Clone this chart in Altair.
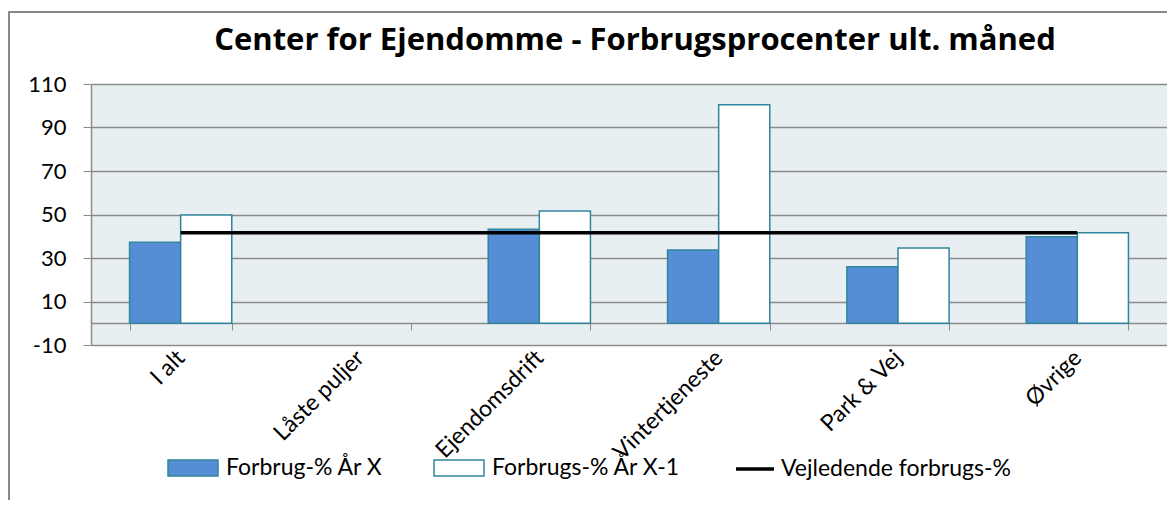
import altair as alt
import pandas as pd

categories = ["I alt", "Låste puljer", "Ejendomsdrift", "Vintertjeneste", "Park & Vej", "Øvrige"]
forbrug_x = [37.2, None, 43.2, 33.7, 26.0, 39.8]
forbrug_x1 = [49.8, None, 51.6, 100.5, 34.6, 41.6]
vejledende = [41.6, 41.6, 41.6, 41.6, 41.6, 41.6]

s_x = "Forbrug-% År X"
s_x1 = "Forbrugs-% År X-1"
s_line = "Vejledende forbrugs-%"

rows = []
for c, a, b in zip(categories, forbrug_x, forbrug_x1):
    if a is not None:
        rows.append({"kat": c, "serie": s_x, "v": a})
    if b is not None:
        rows.append({"kat": c, "serie": s_x1, "v": b})
bars_df = pd.DataFrame(rows)
line_df = pd.DataFrame({"kat": categories, "serie": [s_line] * len(categories), "v": vejledende})

FONT = "Lato"
W, H = 1076, 261
GRID = "#8a8a8a"
XLAB, YLAB, LEG = 23, 22, 23

xscale = alt.Scale(domain=categories, paddingInner=0.43, paddingOuter=0.215)
yscale = alt.Scale(domain=[-10, 110], nice=False, zero=False)


def xaxis():
    return alt.Axis(
        title=None, offset=-22, tickBand="extent", tickSize=7, tickColor=GRID,
        domainColor=GRID, domainWidth=1.5, labelAngle=315, labelAlign="right",
        labelBaseline="middle", labelPadding=24, labelFontSize=XLAB, labelFont=FONT,
        labelColor="black", grid=False, labelLimit=300,
    )


def yaxis():
    return alt.Axis(
        title=None, values=list(range(-10, 111, 20)), tickSize=8, tickColor=GRID,
        domainColor=GRID, domainWidth=1.5, gridColor=GRID, gridWidth=1.5,
        labelFontSize=YLAB, labelFont=FONT, labelColor="black", labelPadding=17,
        labelExpr="datum.value",
    )


bars = alt.Chart(bars_df).mark_bar(stroke="#31859C", strokeWidth=1.5).encode(
    x=alt.X("kat:N", scale=xscale, axis=xaxis(), sort=categories),
    xOffset=alt.XOffset("serie:N", sort=[s_x, s_x1], scale=alt.Scale(domain=[s_x, s_x1])),
    y=alt.Y("v:Q", scale=yscale, axis=yaxis()),
    fill=alt.Fill(
        "serie:N",
        scale=alt.Scale(domain=[s_x, s_x1], range=["#558ED5", "#FFFFFF"]),
        legend=alt.Legend(
            title=None, orient="none", legendX=76, legendY=358, direction="horizontal",
            symbolType="M-1,-0.32H1V0.32H-1Z", symbolSize=2500,
            symbolStrokeColor="#31859C", symbolStrokeWidth=1.5,
            labelFontSize=LEG, labelFont=FONT, labelColor="black", labelOffset=7,
            columnPadding=47, padding=0, labelLimit=400,
        ),
    ),
)

line = alt.Chart(line_df).mark_line(strokeWidth=3.5).encode(
    x=alt.X("kat:N", scale=xscale, sort=categories, axis=xaxis()),
    y=alt.Y("v:Q", scale=yscale, axis=yaxis()),
    stroke=alt.Stroke(
        "serie:N",
        scale=alt.Scale(domain=[s_line], range=["#000000"]),
        legend=alt.Legend(
            title=None, orient="none", legendX=643, legendY=364, direction="horizontal",
            symbolType="stroke", symbolSize=1444, symbolStrokeWidth=3.5,
            labelFontSize=LEG, labelFont=FONT, labelColor="black", labelOffset=5,
            padding=0, labelLimit=400,
        ),
    ),
)

border = alt.Chart(pd.DataFrame({"a": [0]})).mark_rect(
    fill=None, stroke="#888888", strokeWidth=2
).encode(
    x=alt.value(-82), x2=alt.value(1300), y=alt.value(-72), y2=alt.value(700)
)

chart = alt.layer(border, bars, line).properties(
    width=W, height=H,
    title=alt.Title(
        "Center for Ejendomme - Forbrugsprocenter ult. måned",
        fontSize=31, font="Open Sans", fontWeight="bold", color="black",
        anchor="middle", frame="group", offset=0, dy=46, dx=6,
    ),
    autosize=alt.AutoSizeParams(type="none"),
    padding={"left": 83, "top": 76, "right": 0, "bottom": 155},
).configure(
    background="white",
    view=alt.ViewConfig(fill="#E8EFF3", stroke=None),
    axisX=alt.AxisConfig(labelFontSize=XLAB, labelFont=FONT, labelColor="black"),
    axisY=alt.AxisConfig(labelFontSize=YLAB, labelFont=FONT, labelColor="black"),
)

chart.save("out.html", embed_options={"renderer": "svg", "actions": False})
